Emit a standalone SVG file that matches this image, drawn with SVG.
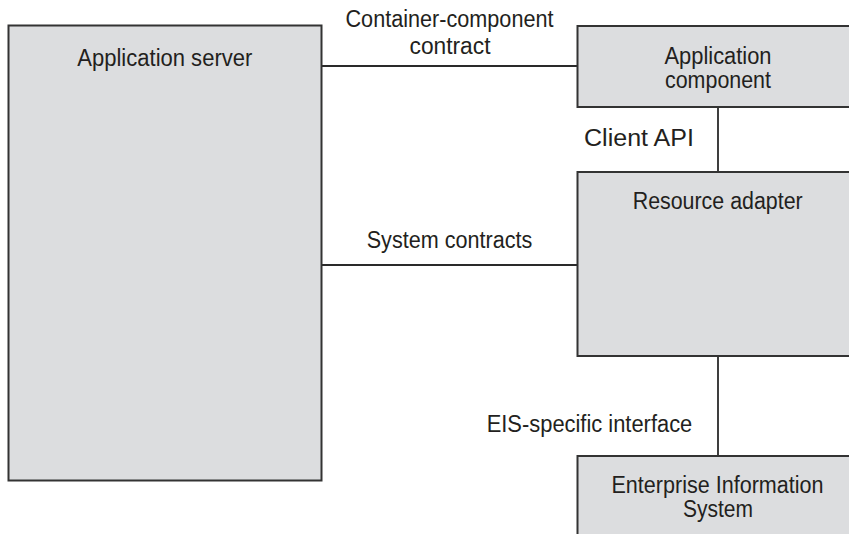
<svg xmlns="http://www.w3.org/2000/svg" width="849" height="534" viewBox="0 0 849 534">
<style>
.box{fill:#dcdddf;stroke:#333333;stroke-width:2}
.con{stroke:#2a2a2a;stroke-width:1.8;fill:none}
text{font-family:"Liberation Sans Narrow","Liberation Sans",Arial,sans-serif;font-size:23px;fill:#231f20;text-anchor:middle}
</style>
<rect width="849" height="534" fill="#ffffff"/>
<g id="connectors">
<line class="con" x1="322" y1="66" x2="577" y2="66"/>
<line class="con" x1="718" y1="107" x2="718" y2="172"/>
<line class="con" x1="322" y1="265" x2="577" y2="265"/>
<line class="con" x1="718" y1="356" x2="718" y2="456"/>
<text x="449.5" y="26.5" textLength="208" lengthAdjust="spacingAndGlyphs">Container-component</text>
<text x="450" y="53.5" textLength="81" lengthAdjust="spacingAndGlyphs">contract</text>
<text x="639" y="146" textLength="110" lengthAdjust="spacingAndGlyphs">Client API</text>
<text x="449.5" y="248.3" textLength="165.6" lengthAdjust="spacingAndGlyphs">System contracts</text>
<text x="589.5" y="432.3" textLength="205.6" lengthAdjust="spacingAndGlyphs">EIS-specific interface</text>
</g>
<g id="application-server">
<rect class="box" x="8.5" y="25.5" width="313" height="455"/>
<text x="164.8" y="65.5" textLength="175" lengthAdjust="spacingAndGlyphs">Application server</text>
</g>
<g id="application-component">
<rect class="box" x="577.5" y="26" width="280" height="81"/>
<text x="718" y="63.5" textLength="107" lengthAdjust="spacingAndGlyphs">Application</text>
<text x="718" y="88" textLength="106" lengthAdjust="spacingAndGlyphs">component</text>
</g>
<g id="resource-adapter">
<rect class="box" x="577.5" y="172" width="280" height="184"/>
<text x="717.7" y="209.3" textLength="170" lengthAdjust="spacingAndGlyphs">Resource adapter</text>
</g>
<g id="eis">
<rect class="box" x="577.5" y="456" width="280" height="90"/>
<text x="717.5" y="492.5" textLength="212" lengthAdjust="spacingAndGlyphs">Enterprise Information</text>
<text x="718" y="516.7" textLength="70" lengthAdjust="spacingAndGlyphs">System</text>
</g>
</svg>
